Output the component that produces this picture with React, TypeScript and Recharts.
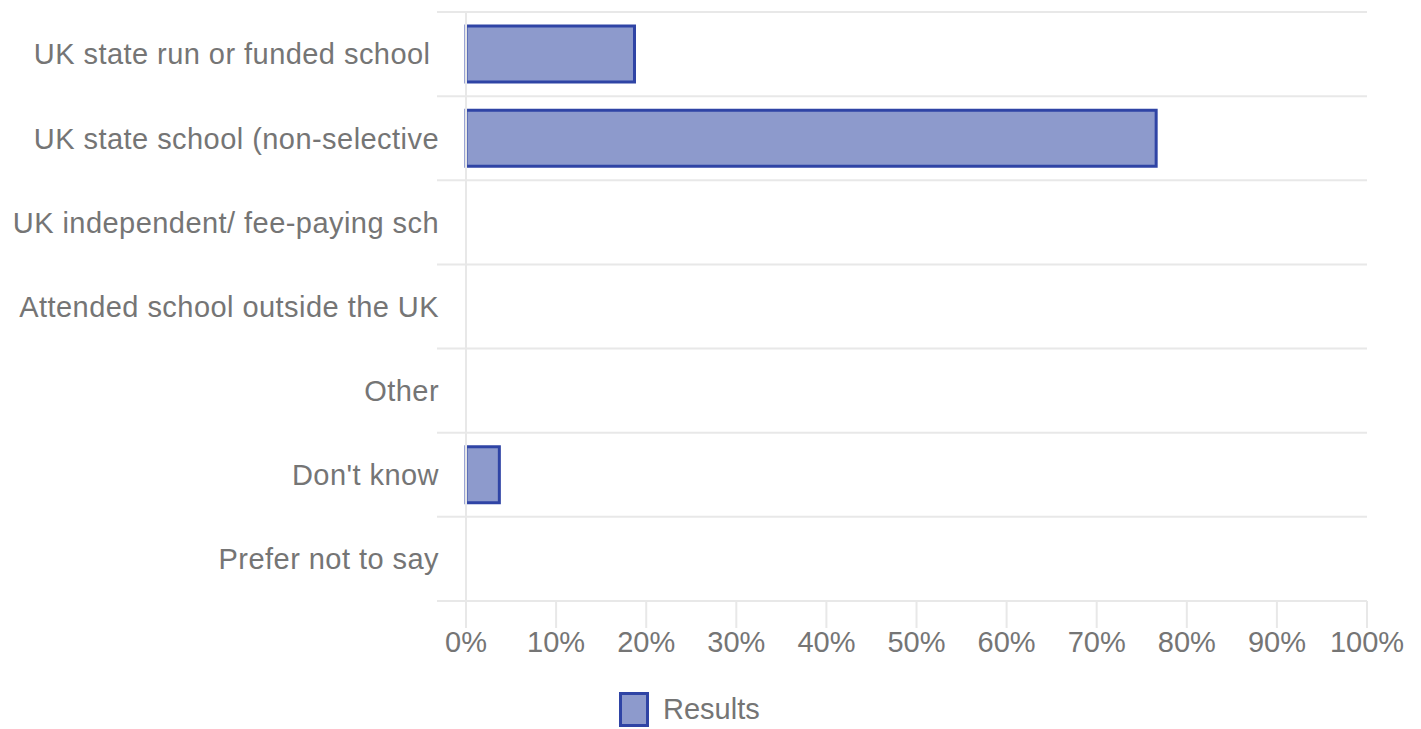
import { BarChart, Bar, XAxis, YAxis, CartesianGrid, Legend, ReferenceLine } from 'recharts';

const categories = [
  'UK state run or funded school ',
  'UK state school (non-selective',
  'UK independent/ fee-paying sch',
  'Attended school outside the UK',
  'Other',
  "Don't know",
  'Prefer not to say',
];
const results = [18.7, 76.6, 0, 0, 0, 3.7, 0];
const xTicks = [0, 10, 20, 30, 40, 50, 60, 70, 80, 90, 100];
const rowEdges = [0, 1, 2, 3, 4, 5, 6, 7];

const data = categories.map((name, i) => ({ name, value: results[i] }));

const FONT = '"Liberation Sans", Arial, sans-serif';
const TEXT = '#757575';
const GRID = '#e8e8e8';
const FILL = '#8d9acc';
const STROKE = '#2f44a5';

function ResultsLegend() {
  return (
    <div style={{ display: 'flex', alignItems: 'center', fontFamily: FONT, fontSize: 29, color: TEXT }}>
      <div style={{ width: 24, height: 29, background: FILL, border: `3px solid ${STROKE}` }} />
      <span style={{ marginLeft: 14 }}>Results</span>
    </div>
  );
}

// category label, keeps trailing spaces like the source
function CategoryTick({ x, y, payload }: any) {
  return (
    <text
      x={x}
      y={y}
      dy="0.355em"
      textAnchor="end"
      fill={TEXT}
      fontSize={29}
      fontFamily={FONT}
      letterSpacing={0.45}
      style={{ whiteSpace: 'pre' }}
    >
      {payload.value}
    </text>
  );
}

export default function App() {
  return (
    <div style={{ position: 'absolute', left: 0, top: 0 }}>
      <BarChart
        width={1421}
        height={729}
        data={data}
        layout="vertical"
        margin={{ top: 12, right: 54, bottom: 2, left: 0 }}
      >
        <CartesianGrid
          vertical={false}
          stroke={GRID}
          strokeWidth={2}
          horizontalCoordinatesGenerator={({ offset }: any) =>
            rowEdges.map((i) => offset.top + (offset.height * i) / categories.length)
          }
        />
        <XAxis
          type="number"
          domain={[-3.22, 100]}
          ticks={xTicks}
          tickFormatter={(v) => `${v}%`}
          axisLine={false}
          tickSize={27}
          tickMargin={3}
          tickLine={{ stroke: GRID, strokeWidth: 2 }}
          tick={{ fill: TEXT, fontSize: 29, fontFamily: FONT }}
          height={91}
          interval={0}
        />
        <YAxis
          type="category"
          dataKey="name"
          width={437}
          axisLine={false}
          tickLine={false}
          tickSize={0}
          tickMargin={-2}
          tick={<CategoryTick />}
          interval={0}
        />
        <ReferenceLine x={0} stroke={GRID} strokeWidth={2} />
        <Legend content={<ResultsLegend />} wrapperStyle={{ left: 619, width: 'auto' }} />
        <Bar
          dataKey="value"
          name="Results"
          fill={FILL}
          stroke={STROKE}
          strokeWidth={3}
          barSize={56}
          isAnimationActive={false}
        />
      </BarChart>
    </div>
  );
}
